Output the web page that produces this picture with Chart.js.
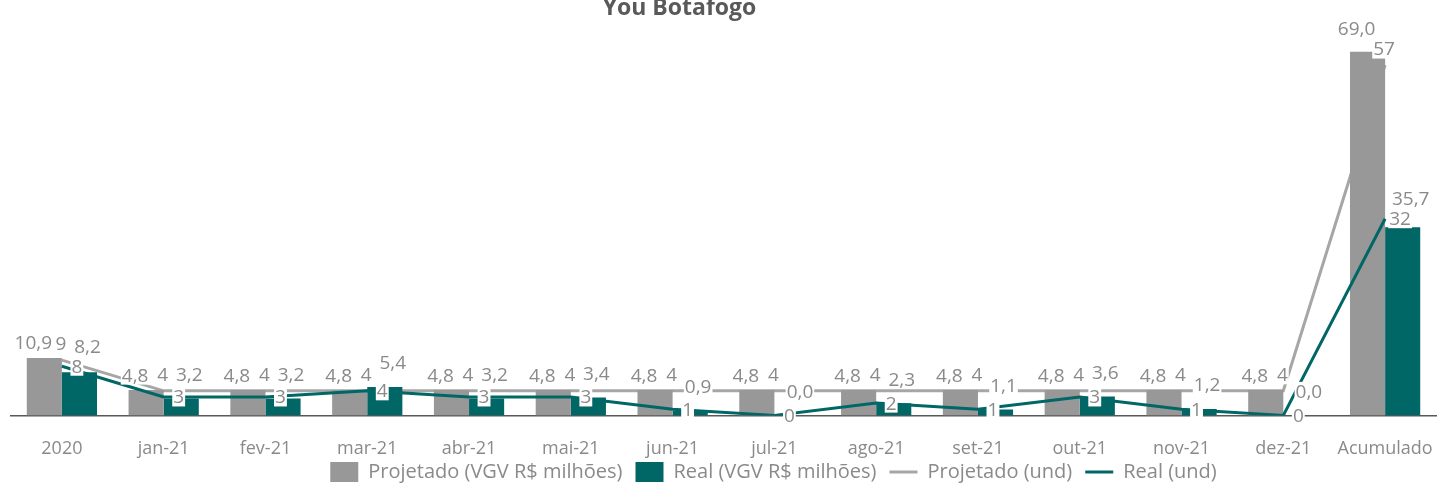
<!DOCTYPE html>
<html>
<head>
<meta charset="utf-8">
<script src="https://cdn.jsdelivr.net/npm/chart.js@4.4.1/dist/chart.umd.min.js"></script>
<style>
  html, body { margin: 0; padding: 0; background: #fff; }
</style>
</head>
<body>
<canvas id="chart-botafogo" width="1453" height="486"></canvas>
<script>
// dados
const categories = ["2020", "jan-21", "fev-21", "mar-21", "abr-21", "mai-21", "jun-21",
  "jul-21", "ago-21", "set-21", "out-21", "nov-21", "dez-21", "Acumulado"];
const projetadoVgv = [10.9, 4.8, 4.8, 4.8, 4.8, 4.8, 4.8, 4.8, 4.8, 4.8, 4.8, 4.8, 4.8, 69.0];
const realVgv = [8.2, 3.2, 3.2, 5.4, 3.2, 3.4, 0.9, 0.0, 2.3, 1.1, 3.6, 1.2, 0.0, 35.7];
const projetadoUnd = [9, 4, 4, 4, 4, 4, 4, 4, 4, 4, 4, 4, 4, 57];
const realUnd = [8, 3, 3, 4, 3, 3, 1, 0, 2, 1, 3, 1, 0, 32];

const GRAY = "#989898";
const TEAL = "#006666";
const GRAY_LINE = "#a6a6a6";
const TEXT = "#8a8a8a";
const FONT = "'Open Sans'";

const fmtVgv = (v) => v.toFixed(1).replace(".", ",");
const fmtUnd = (v) => String(v);

// rótulos com fundo branco
const valueLabels = {
  id: "valueLabels",
  afterDatasetsDraw(chart) {
    const ctx = chart.ctx;
    const placed = [];
    ctx.save();
    ctx.font = `19px ${FONT}`;
    ctx.textAlign = "center";
    ctx.textBaseline = "middle";

    // evita sobreposição: sobe o rótulo até ficar livre
    const put = (text, x, y) => {
      const w = ctx.measureText(text).width + 2;
      const h = 19;
      for (let i = 0; i < 8; i++) {
        const hit = placed.find(
          (b) => Math.abs(b.x - x) < (b.w + w) / 2 && Math.abs(b.y - y) < (b.h + h) / 2
        );
        if (!hit) break;
        y = hit.y - (hit.h + h) / 2 - 1;
      }
      placed.push({ x, y, w, h, text });
    };

    const pu = chart.getDatasetMeta(2).data;
    const ru = chart.getDatasetMeta(3).data;
    const pv = chart.getDatasetMeta(0).data;
    const rv = chart.getDatasetMeta(1).data;

    ru.forEach((p, i) => put(fmtUnd(realUnd[i]), p.x + 15, p.y));
    pu.forEach((p, i) => put(fmtUnd(projetadoUnd[i]), p.x - 1, p.y - 16));
    rv.forEach((b, i) => put(fmtVgv(realVgv[i]), b.x + 8, b.y - 24));
    pv.forEach((b, i) => put(fmtVgv(projetadoVgv[i]), b.x - 11, b.y - 15));

    placed.forEach((b) => {
      ctx.fillStyle = "#ffffff";
      ctx.fillRect(b.x - b.w / 2, b.y - b.h / 2, b.w, b.h);
      ctx.fillStyle = TEXT;
      ctx.fillText(b.text, b.x, b.y + 1);
    });
    ctx.restore();
  },
};

// título e legenda deslocados, como no original
const boxShift = {
  id: "boxShift",
  afterLayout(chart) {
    chart.legend.left += 50;
    chart.legend.right += 50;
    chart.legend.top -= 11;
    chart.legend.bottom -= 11;
    chart.titleBlock.left -= 44;
    chart.titleBlock.right -= 44;
  },
};

new Chart(document.getElementById("chart-botafogo"), {
  type: "bar",
  data: {
    labels: categories,
    datasets: [
      {
        label: "Projetado (VGV R$ milhões)",
        data: projetadoVgv,
        backgroundColor: GRAY,
        yAxisID: "y",
        order: 2,
        pointStyle: "rect",
        categoryPercentage: 0.69,
        barPercentage: 1.0,
      },
      {
        label: "Real (VGV R$ milhões)",
        data: realVgv,
        backgroundColor: TEAL,
        yAxisID: "y",
        order: 2,
        pointStyle: "rect",
        categoryPercentage: 0.69,
        barPercentage: 1.0,
      },
      {
        type: "line",
        label: "Projetado (und)",
        data: projetadoUnd,
        borderColor: GRAY_LINE,
        backgroundColor: GRAY_LINE,
        borderWidth: 3,
        pointRadius: 0,
        pointStyle: "line",
        yAxisID: "y1",
        order: 3,
      },
      {
        type: "line",
        label: "Real (und)",
        data: realUnd,
        borderColor: TEAL,
        backgroundColor: TEAL,
        borderWidth: 3,
        pointRadius: 0,
        pointStyle: "line",
        yAxisID: "y1",
        order: 0,
      },
    ],
  },
  options: {
    responsive: false,
    animation: false,
    devicePixelRatio: 1,
    layout: { padding: { left: 11, right: 17, top: 0, bottom: -17 } },
    scales: {
      x: {
        grid: { display: false, tickLength: 23 },
        border: { color: "#595959", width: 1.5 },
        ticks: {
          color: TEXT,
          padding: 0,
          maxRotation: 0,
          autoSkip: false,
          font: { family: FONT, size: 18, lineHeight: 1.2 },
        },
      },
      y: { display: false, min: 0, max: 70 },
      y1: { display: false, min: 0, max: 60, position: "right" },
    },
    plugins: {
      tooltip: { enabled: false },
      title: {
        display: true,
        text: "You Botafogo",
        color: "#595959",
        font: { family: FONT, size: 23, weight: "bold", lineHeight: 1.2 },
        padding: { top: -5, bottom: 24 },
      },
      legend: {
        position: "bottom",
        labels: {
          usePointStyle: true,
          boxHeight: 24,
          pointStyleWidth: 28,
          padding: 13,
          color: TEXT,
          font: { family: FONT, size: 20 },
          sort: (a, b) => a.datasetIndex - b.datasetIndex,
        },
      },
    },
  },
  plugins: [valueLabels, boxShift],
});
</script>
</body>
</html>
